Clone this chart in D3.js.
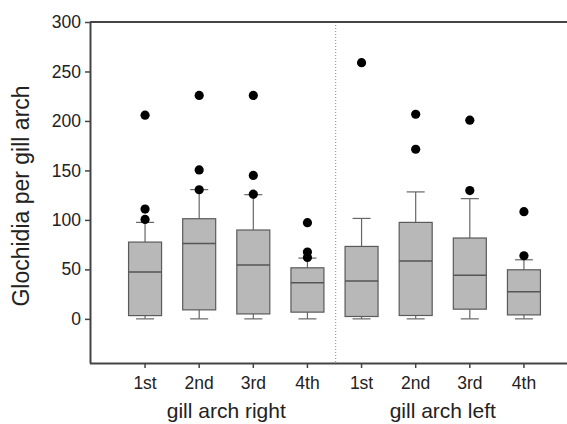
<!DOCTYPE html>
<html>
<head>
<meta charset="utf-8" />
<title>Glochidia per gill arch</title>
<script src="https://d3js.org/d3.v7.min.js"></script>
<style>
  body { margin: 0; background: #fff; }
  text { font-family: Arial, "Liberation Sans", sans-serif; fill: #222; }
</style>
</head>
<body>
<svg></svg>
<script>
// data
const arches = ['1st','2nd','3rd','4th']
const sides = ['gill arch right','gill arch left']
const q1     = [3.3, 9.1, 5, 6.8, 2.4, 3.4, 9.8, 4]
const median = [47.3, 76.2, 54.4, 36.4, 38.2, 58.4, 44.2, 27.3]
const q3     = [77.6, 101.2, 89.8, 51.6, 73.2, 97.5, 81.7, 49.6]
const whiskLo = [0, 0, 0, 0, 0, 0, 0, 0]
const whiskHi = [97.5, 130.6, 125.5, 61.4, 101.5, 128.3, 121.5, 59.7]
const outliers = [
  [100.5, 111, 205.8],
  [130.5, 150.5, 225.8],
  [126, 145, 225.8],
  [62, 67.5, 97.2],
  [258.9],
  [171.4, 206.8],
  [129.6, 200.8],
  [63.8, 108.3]
]
const yTicks = [0, 50, 100, 150, 200, 250, 300]

const W = 567, H = 424
const mLeft = 90, mTop = 22, mBottom = 363

const svg = d3.select('svg').attr('width', W).attr('height', H)

const keys = d3.range(8)
const x = d3.scaleBand().domain(keys).range([118, 551])
const y = d3.scaleLinear().domain([-44.6, 300]).range([mBottom, mTop])

const boxW = 33, capW = 18

// divider between the two sides
svg.append('line')
  .attr('x1', 335.7).attr('x2', 335.7)
  .attr('y1', mTop).attr('y2', mBottom)
  .attr('stroke', '#888').attr('stroke-width', 1)
  .attr('stroke-dasharray', '1,2')

const g = svg.selectAll('g.box')
  .data(keys)
  .enter().append('g')
  .attr('class', 'box')
  .attr('transform', d => `translate(${x(d) + x.bandwidth() / 2},0)`)

// whiskers
g.append('line')
  .attr('y1', d => y(whiskHi[d])).attr('y2', d => y(q3[d]))
  .attr('stroke', '#666').attr('stroke-width', 1.2)
g.append('line')
  .attr('y1', d => y(whiskLo[d])).attr('y2', d => y(q1[d]))
  .attr('stroke', '#666').attr('stroke-width', 1.2)
g.append('line')
  .attr('x1', -capW / 2).attr('x2', capW / 2)
  .attr('y1', d => y(whiskHi[d])).attr('y2', d => y(whiskHi[d]))
  .attr('stroke', '#666').attr('stroke-width', 1.2)
g.append('line')
  .attr('x1', -capW / 2).attr('x2', capW / 2)
  .attr('y1', d => y(whiskLo[d])).attr('y2', d => y(whiskLo[d]))
  .attr('stroke', '#666').attr('stroke-width', 1.2)

// boxes
g.append('rect')
  .attr('x', -boxW / 2).attr('width', boxW)
  .attr('y', d => y(q3[d]))
  .attr('height', d => y(q1[d]) - y(q3[d]))
  .attr('fill', '#b8b8b8').attr('stroke', '#5a5a5a').attr('stroke-width', 1.2)
g.append('line')
  .attr('x1', -boxW / 2).attr('x2', boxW / 2)
  .attr('y1', d => y(median[d])).attr('y2', d => y(median[d]))
  .attr('stroke', '#555').attr('stroke-width', 1.5)

// outliers
g.selectAll('circle')
  .data(d => outliers[d])
  .enter().append('circle')
  .attr('r', 4.6)
  .attr('cy', v => y(v))
  .attr('fill', '#000')

// y axis
const yAxis = svg.append('g')
  .attr('transform', `translate(${mLeft},0)`)
  .call(d3.axisLeft(y).tickValues(yTicks).tickSize(5).tickSizeOuter(0).tickPadding(4))
yAxis.select('.domain').attr('stroke', '#444').attr('stroke-width', 2)
yAxis.selectAll('.tick line').attr('stroke', '#444').attr('stroke-width', 1.5)
yAxis.selectAll('.tick text').attr('font-size', 17.5).attr('fill', '#222')
  .style('font-family', 'Arial, "Liberation Sans", sans-serif')

// x axis
const xAxis = svg.append('g')
  .attr('transform', `translate(0,${mBottom})`)
  .call(d3.axisBottom(x).tickSize(5).tickSizeOuter(0).tickPadding(9)
    .tickFormat(d => arches[d % 4]))
xAxis.select('.domain').attr('d', `M${mLeft},0.5H${W}`)
  .attr('stroke', '#444').attr('stroke-width', 2)
xAxis.selectAll('.tick line').attr('stroke', '#444').attr('stroke-width', 1.5)
xAxis.selectAll('.tick text').attr('font-size', 17.5).attr('fill', '#222')
  .style('font-family', 'Arial, "Liberation Sans", sans-serif')

// top frame line
svg.append('line')
  .attr('x1', mLeft).attr('x2', W)
  .attr('y1', mTop).attr('y2', mTop)
  .attr('stroke', '#444').attr('stroke-width', 2)

// group labels
svg.selectAll('text.side')
  .data(sides)
  .enter().append('text')
  .attr('class', 'side')
  .attr('x', (d, i) => (x(i * 4) + x(i * 4 + 3) + x.bandwidth()) / 2)
  .attr('y', 418)
  .attr('text-anchor', 'middle')
  .attr('font-size', 21)
  .text(d => d)

// y title
svg.append('text')
  .attr('transform', 'translate(29,196) rotate(-90)')
  .attr('text-anchor', 'middle')
  .attr('font-size', 23)
  .text('Glochidia per gill arch')
</script>
</body>
</html>
